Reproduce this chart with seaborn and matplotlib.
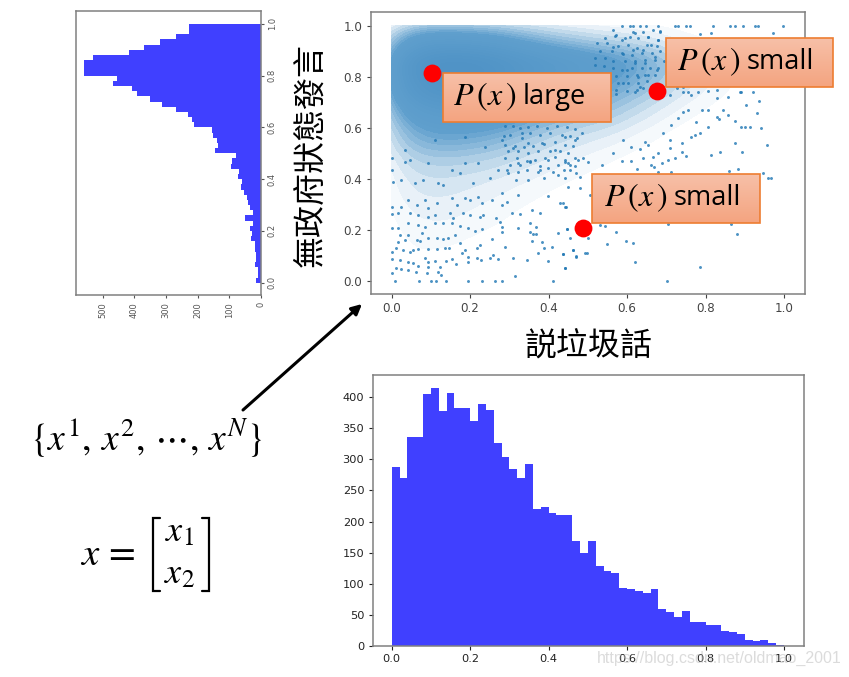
import numpy as np
import pandas as pd
import matplotlib
matplotlib.use("Agg")
import matplotlib.pyplot as plt
from matplotlib.colors import LinearSegmentedColormap
from matplotlib.patches import Rectangle, FancyArrowPatch
import seaborn as sns

# ---------- data ----------
x_counts = [287,270,336,336,405,414,377,406,382,382,362,389,379,326,303,285,270,293,220,223,
            213,210,211,169,149,169,129,121,118,94,91,88,85,91,60,54,46,56,38,38,
            34,34,24,22,20,10,8,10,5,2]
y_counts = [17,8,8,20,17,17,18,18,30,29,35,26,49,26,35,40,43,53,63,61,
            74,69,94,90,80,145,135,140,150,154,210,219,229,269,313,350,393,408,466,456,
            558,558,558,530,417,368,318,269,226,226]

# estimated point counts per 0.1 x 0.1 cell of the dense cloud (rows by y, columns by x)
cell_x = [0.05,0.15,0.25,0.35,0.45,0.55,0.65,0.75,0.85,0.95]
row_y00 = [25,20,10,8,3,2,1,0,1,0]
row_y10 = [35,30,20,12,6,5,2,0,1,0]
row_y20 = [50,50,35,20,8,4,2,1,1,0]
row_y30 = [70,65,50,35,20,10,5,2,1,1]
row_y40 = [90,90,80,60,40,25,12,5,3,1]
row_y50 = [150,160,140,100,70,50,30,12,6,2]
row_y60 = [220,240,240,180,130,110,60,30,15,5]
row_y70 = [350,420,400,290,220,170,120,60,30,10]
row_y80 = [420,480,440,340,280,230,170,90,40,10]
row_y90 = [230,230,200,140,100,75,60,30,15,5]
cell_y = [0.05,0.15,0.25,0.35,0.45,0.55,0.65,0.75,0.85,0.95]

# individually read scatter points
scatter_x = [.9365,.930,.903,.890,.901,.914,.941,.957,.875,.894,.837,.815,.860,.883,.947,.959,.968,.864,.880,.785,.702,.620,.573,.596,.616,.548,.543,.531,.492,.498,.463,.471,.436,.442,.501,.446,.705,
 .891,.921,.845,.828,.835,.857,.874,.807,.790,.775,.785,.773,.764,.807,.756,.743,.730,.713,.692,.709,.741,.751,.741,.722,.709,.679,.667,.705,.688,.662,.640,.611,.633,.610,.654,.645,.590,.565,.586,.535,.626,.669,.679,.713,.501,.488,.480,.454,.441,.480,.450,.505,.444,.437,
 .0085,.0704,.099,.112,.138,.195,.231,.263,.280,.412,
 .0,.010,.025,.042,.061,.089,.093,.119,.126,.123,.0,.021,.042,.055,.068,.085,.092,.110,.138,.153,.163,.195,.195,.217,.228,.250,.259,.270,.310,.344,.399,.441,.314,.436,.471,.461,.374,.389,.408,.357,.382,.454,.425,.446,.352,.361,.369,.323,.369,.352,.289,.276,.267,.280,.282,.256,.225,.217,.187,.178,.147,.136,.115,.093,.068,.055,.047,.030,.011,.0,.017,.034,.064,.072,.093,.115,.132,.144,.161,.174,.195,.212,.229,.233,.225,.200,.183,.157,.149,.110,.093,.068,.047,.017,.0,.0,.025,.042,.064,.085,.093,.115,.153,.166,.187,.200,.221,.229,.255,.280,.293,.306,.327,.357,.378,.429,.441,.399,.323,.280,.017,.0,.042,.068,.085,.110,.132,.153,.174,.021,.042,.076,
 .586,.607,.615,.632,.649,.679,.722,.730,.751,.760,.819,.862,.874,.896,.925,.934,.998,
 .815,.972,.785,.683,.654,.641,.620,.607,.586,.573,.564,.590,.615,.641,.662,.679,.671,.645,.620,.599,.628,.654,.675,.590,.573,.620,.632,.726,.743,.764,.781,.807,.828,.857,.887,.709,.743,.756,.828,
 .0,.0,.004,.025,.034,.047,.059,.081,.093,.119,.132,.153,.174,.187,.208,.221,.250,.272,.297,.318,.323,.352,.348,.389,.412,.425,.441,.454,.471,.475,.399,.378,.310,.348,.382,.416,.441,.467,.484,.331,.034,.110,.187,.238,.280,
 .289,.310,.327,.348,.370,.395,.421,.446,.467,.285,.302,.331,.353,.378,.404,.433,.455,.472,.289,.314,.336,.361,.387,.416,.442,.463,.297,.323,.348,.374,.404,.429,.450,.289,.319,.344,.365,.391,.416,.442,.467,.302,.327,.353,.378,.399,.425,.450,.323,.344,.374,.293,.438,.467,
 .563,.616,.667,.684,.544,.569,.595,.629,.654,.680,.523,.548,.578,.603,.625,.650,.676,.531,.561,.586,.612,.637,.663,.684,.518,.544,.565,.595,.620,.646,.671,.693,.518,.540,.565,.586,.612,.637,.659,.680,.573,.599,.625,.646,.671,.578,.603,.629,.650,.573,.599,.625,.641]
scatter_y = [.706,.659,.689,.604,.604,.604,.600,.532,.539,.503,.503,.493,.431,.437,.421,.401,.401,.221,.182,.055,.0,.075,.192,.157,.147,.143,.215,.218,.110,.107,.120,.097,.103,.049,.166,.203,.221,
 .741,.741,.669,.643,.633,.650,.628,.669,.669,.621,.578,.571,.562,.604,.669,.663,.637,.611,.578,.552,.539,.490,.503,.480,.519,.499,.486,.473,.460,.454,.480,.469,.515,.523,.532,.545,.552,.499,.469,.454,.440,.447,.427,.427,.467,.480,.408,.434,.401,.362,.369,.336,.290,.303,
 .0,.0,.0,.0,.0,.0,.0,.0,.0,.0,
 .029,.049,.045,.042,.033,.032,.052,.035,.022,.052,.084,.081,.075,.068,.058,.088,.075,.079,.077,.085,.065,.075,.094,.088,.081,.090,.101,.085,.090,.081,.077,.048,.020,.103,.094,.120,.107,.127,.133,.156,.153,.166,.188,.203,.192,.182,.183,.208,.212,.225,.133,.229,.245,.212,.190,.162,.140,.127,.120,.107,.127,.127,.123,.123,.123,.120,.114,.120,.127,.111,.153,.160,.160,.157,.166,.166,.162,.166,.179,.147,.205,.196,.201,.258,.251,.258,.264,.245,.264,.258,.251,.258,.264,.264,.262,.290,.290,.316,.297,.316,.284,.303,.323,.297,.323,.316,.330,.303,.316,.297,.310,.264,.260,.277,.264,.303,.290,.333,.336,.343,.205,.205,.225,.218,.212,.225,.225,.225,.214,.179,.179,.186,
 1,1,1,1,1,1,1,1,1,1,1,1,1,1,1,1,1,
 .970,.972,.966,.976,.957,.976,.970,.957,.944,.963,.917,.891,.904,.904,.924,.944,.878,.852,.852,.826,.800,.806,.826,.774,.734,.741,.761,.754,.741,.728,.741,.744,.748,.721,.741,.728,.761,.741,.715,
 .480,.434,.388,.395,.467,.473,.382,.395,.460,.382,.375,.434,.421,.460,.382,.460,.401,.434,.421,.395,.460,.467,.395,.401,.427,.414,.467,.454,.421,.473,.473,.434,.519,.539,.539,.512,.565,.552,.578,.578,.512,.552,.565,.525,.552,
 .605,.608,.598,.602,.608,.598,.605,.602,.594,.566,.572,.559,.579,.572,.581,.572,.566,.559,.533,.527,.524,.529,.537,.546,.533,.527,.507,.507,.500,.507,.507,.507,.500,.481,.481,.468,.474,.481,.487,.474,.481,.455,.455,.468,.448,.442,.455,.461,.428,.435,.428,.435,.435,.448,
 .984,.975,.984,.981,.952,.958,.952,.952,.954,.945,.932,.932,.919,.926,.913,.926,.919,.900,.900,.893,.886,.893,.893,.900,.873,.873,.860,.860,.860,.867,.867,.860,.847,.841,.834,.828,.834,.834,.834,.834,.801,.801,.808,.808,.808,.775,.775,.775,.782,.749,.745,.749,.756]
assert len(scatter_x) == len(scatter_y), (len(scatter_x), len(scatter_y))

marked_x = [.103,.676,.488]
marked_y = [.814,.743,.208]

x_ticks = [0.0,0.2,0.4,0.6,0.8,1.0]
count_ticks_x = [0,50,100,150,200,250,300,350,400]
count_ticks_y = [0,100,200,300,400,500]
xlabel = "説垃圾話"
ylabel = "無政府狀態發言"
watermark = "https://blog.csdn.net/oldmao_2001"

# ---------- page ----------
W, H = 849, 677
sns.set_theme(style="ticks")
plt.rcParams["mathtext.fontset"] = "stix"
plt.rcParams["font.family"] = ["DejaVu Sans"]
plt.rcParams["text.color"] = "black"
fig = plt.figure(figsize=(W/100, H/100), dpi=100, facecolor="white")

def axes_px(l, t, r, b):
    return fig.add_axes([l/W, 1-b/H, (r-l)/W, (b-t)/H])

def style(ax, fs, tc="#444444"):
    for s in ax.spines.values():
        s.set_visible(True); s.set_color("#808080"); s.set_linewidth(1.1)
    ax.tick_params(labelsize=fs, colors=tc, length=3, width=0.8, pad=3)
    ax.set_xlabel(""); ax.set_ylabel("")

BLUE = "#4040ff"
centers = np.arange(0.01, 1.0, 0.02)

# left marginal
ax_l = axes_px(75.7, 10.7, 261, 295)
sns.histplot(y=centers, weights=np.array(y_counts), binwidth=0.02, binrange=(0, 1), element="step", color=BLUE, alpha=1, linewidth=0, ax=ax_l)
ax_l.set_xlim(585, 0); ax_l.set_ylim(-.0476, 1.051)
ax_l.yaxis.tick_right()
ax_l.set_xticks(count_ticks_y); ax_l.set_yticks(x_ticks)
style(ax_l, 6, "#555555")
ax_l.tick_params(length=2)
plt.setp(ax_l.get_xticklabels(), rotation=90, va="top", ha="center")
plt.setp(ax_l.get_yticklabels(), rotation=90, va="center", ha="left")

# scatter: estimated density of the cloud as a smooth wash, read points on top
ax_s = axes_px(370.7, 11.7, 805, 294)
rows = [row_y00,row_y10,row_y20,row_y30,row_y40,row_y50,row_y60,row_y70,row_y80,row_y90]
cells = pd.DataFrame([(cx, cy, r[i]) for cy, r in zip(cell_y, rows) for i, cx in enumerate(cell_x)],
                     columns=["x", "y", "n"])
wash = LinearSegmentedColormap.from_list(
    "wash", [(0, "#fbfdfe"), (.06, "#eaf2f8"), (.14, "#c4dbec"), (.26, "#8dbadb"), (.38, "#5f9fcd"), (1, "#4f93c6")])
sns.kdeplot(data=cells, x="x", y="y", weights="n", fill=True, cmap=wash, levels=24, thresh=0.05,
            bw_adjust=0.55, clip=((0, 1), (0, 1)), ax=ax_s, zorder=1)
pts = pd.DataFrame({"x": scatter_x, "y": scatter_y})
sns.scatterplot(data=pts, x="x", y="y", s=4.5, color="#1f77b4", alpha=.8, linewidth=0, ax=ax_s, zorder=2)
sns.scatterplot(x=marked_x, y=marked_y, s=165, color="#ff0000", linewidth=0, ax=ax_s, zorder=3, clip_on=False)
ax_s.set_xlim(-.0535, 1.0535); ax_s.set_ylim(-.052, 1.055)
ax_s.set_xticks(x_ticks); ax_s.set_yticks(x_ticks)
style(ax_s, 8.6)

# bottom marginal
ax_b = axes_px(372.7, 374.7, 804, 646)
sns.histplot(x=centers, weights=np.array(x_counts), binwidth=0.02, binrange=(0, 1), element="step", color=BLUE, alpha=1, linewidth=0, ax=ax_b)
ax_b.set_xlim(-.0484, 1.051); ax_b.set_ylim(0, 436)
ax_b.set_xticks(x_ticks); ax_b.set_yticks(count_ticks_x)
style(ax_b, 8.2, "#222222")

# ---------- overlay in page pixels ----------
ov = fig.add_axes([0, 0, 1, 1], zorder=10)
ov.patch.set_alpha(0)
ov.axis("off")
grad = np.linspace(0, 1, 64)[:, None, None] * (np.array([244,164,128])-np.array([247,192,168]))/255 + np.array([247,192,168])/255
def box(l, t, r, b, word, tx):
    ov.imshow(grad, extent=(l, r, b, t), aspect="auto", zorder=1)
    ov.add_patch(Rectangle((l, t), r-l, b-t, fc="none", ec="#ED7D31", lw=1.2, zorder=2))
    ov.text(tx, (t+b)/2-.5, r"$P\,(x\,)$", fontsize=23, va="center", ha="left", color="black", zorder=3)
    ov.text(tx+70, (t+b)/2-.5, word, fontsize=19.5, family="Open Sans", va="center", ha="left", color="black", zorder=3)
box(443, 73, 610.7, 122, "large", 453)
box(666, 38, 833, 87, "small", 677)
box(592, 174, 760, 223, "small", 604)

ov.add_patch(FancyArrowPatch((243, 410), (362, 304), arrowstyle="-|>", mutation_scale=15, color="black", lw=2.2, shrinkA=0, shrinkB=0))

ov.text(310, 155, ylabel, fontsize=23, rotation=90, ha="center", va="center", family=["Noto Sans CJK TC", "DejaVu Sans"], fontweight="light")
ov.text(588.5, 347, xlabel, fontsize=23, ha="center", va="center", family=["Noto Sans CJK TC", "DejaVu Sans"], fontweight="light")

ov.text(146, 438, r"$\{x^1,\,x^2,\,\cdots,\,x^N\}$", fontsize=27, ha="center", va="center")
ov.text(108, 554, r"$x\,=$", fontsize=28, ha="center", va="center")
ov.text(179, 531, r"$x_1$", fontsize=26, ha="center", va="center")
ov.text(179, 573, r"$x_2$", fontsize=26, ha="center", va="center")
ov.plot([160, 153.5, 153.5, 160], [518, 518, 591, 591], color="black", lw=1.6, solid_joinstyle="miter")
ov.plot([202, 209, 209, 202], [518, 518, 591, 591], color="black", lw=1.6, solid_joinstyle="miter")

ov.text(842, 658, watermark, fontsize=11.5, ha="right", va="center", family="Liberation Sans", color="#b9b9b9", alpha=.5)
ov.set_xlim(0, W); ov.set_ylim(H, 0)

fig.savefig("out.png", dpi=100)
